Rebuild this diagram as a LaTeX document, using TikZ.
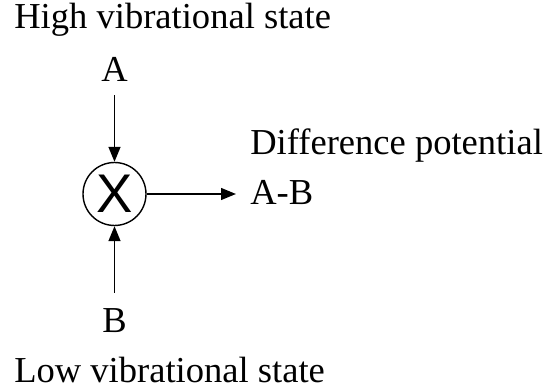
\documentclass[tikz,border=0pt]{standalone}
\usepackage{fontspec}
\setmainfont{Liberation Serif}
\newfontfamily\mixfont{Liberation Sans}
\usetikzlibrary{arrows.meta,positioning}
\tikzset{
  labeltext/.style={
    inner sep=0pt, anchor=base west,
    font=\fontsize{20.8}{24}\selectfont
  },
  lettertext/.style={
    inner sep=0pt, anchor=base,
    font=\fontsize{20.8}{24}\selectfont
  },
  mixer/.style={
    circle, draw, line width=0.8pt, minimum size=1.26cm,
    inner sep=0pt, font=\mixfont\fontsize{31}{34}\selectfont
  },
  sigarrow/.style={
    -{Triangle[length=8.5pt, width=6.8pt]}, line width=0.8pt
  },
}

\begin{document}
\begin{tikzpicture}[x=0.02cm, y=-0.02cm]
  \useasboundingbox (0,0) rectangle (555,391);

  \node[labeltext] (high) at (14,29) {High vibrational state};
  \node[lettertext] (A) at (114.5,82) {A};
  \node[mixer] (mix) at (114.5,194) {X};
  \node[lettertext] (B) at (114.5,333) {B};
  \node[labeltext] (low) at (14,383) {Low vibrational state};

  \node[labeltext] (diff) at (250,155) {Difference potential};
  \node[labeltext] (AB) at (250,205) {A-B};

  % inputs into the mixer
  \draw[sigarrow, shorten <=7.4pt] (A.south) -- (mix.north);
  \draw[sigarrow, shorten <=9pt] (B.north) -- (mix.south);

  % output
  \draw[sigarrow, shorten >=8pt] (mix.east) -- (mix.east -| AB.west);
\end{tikzpicture}
\end{document}
